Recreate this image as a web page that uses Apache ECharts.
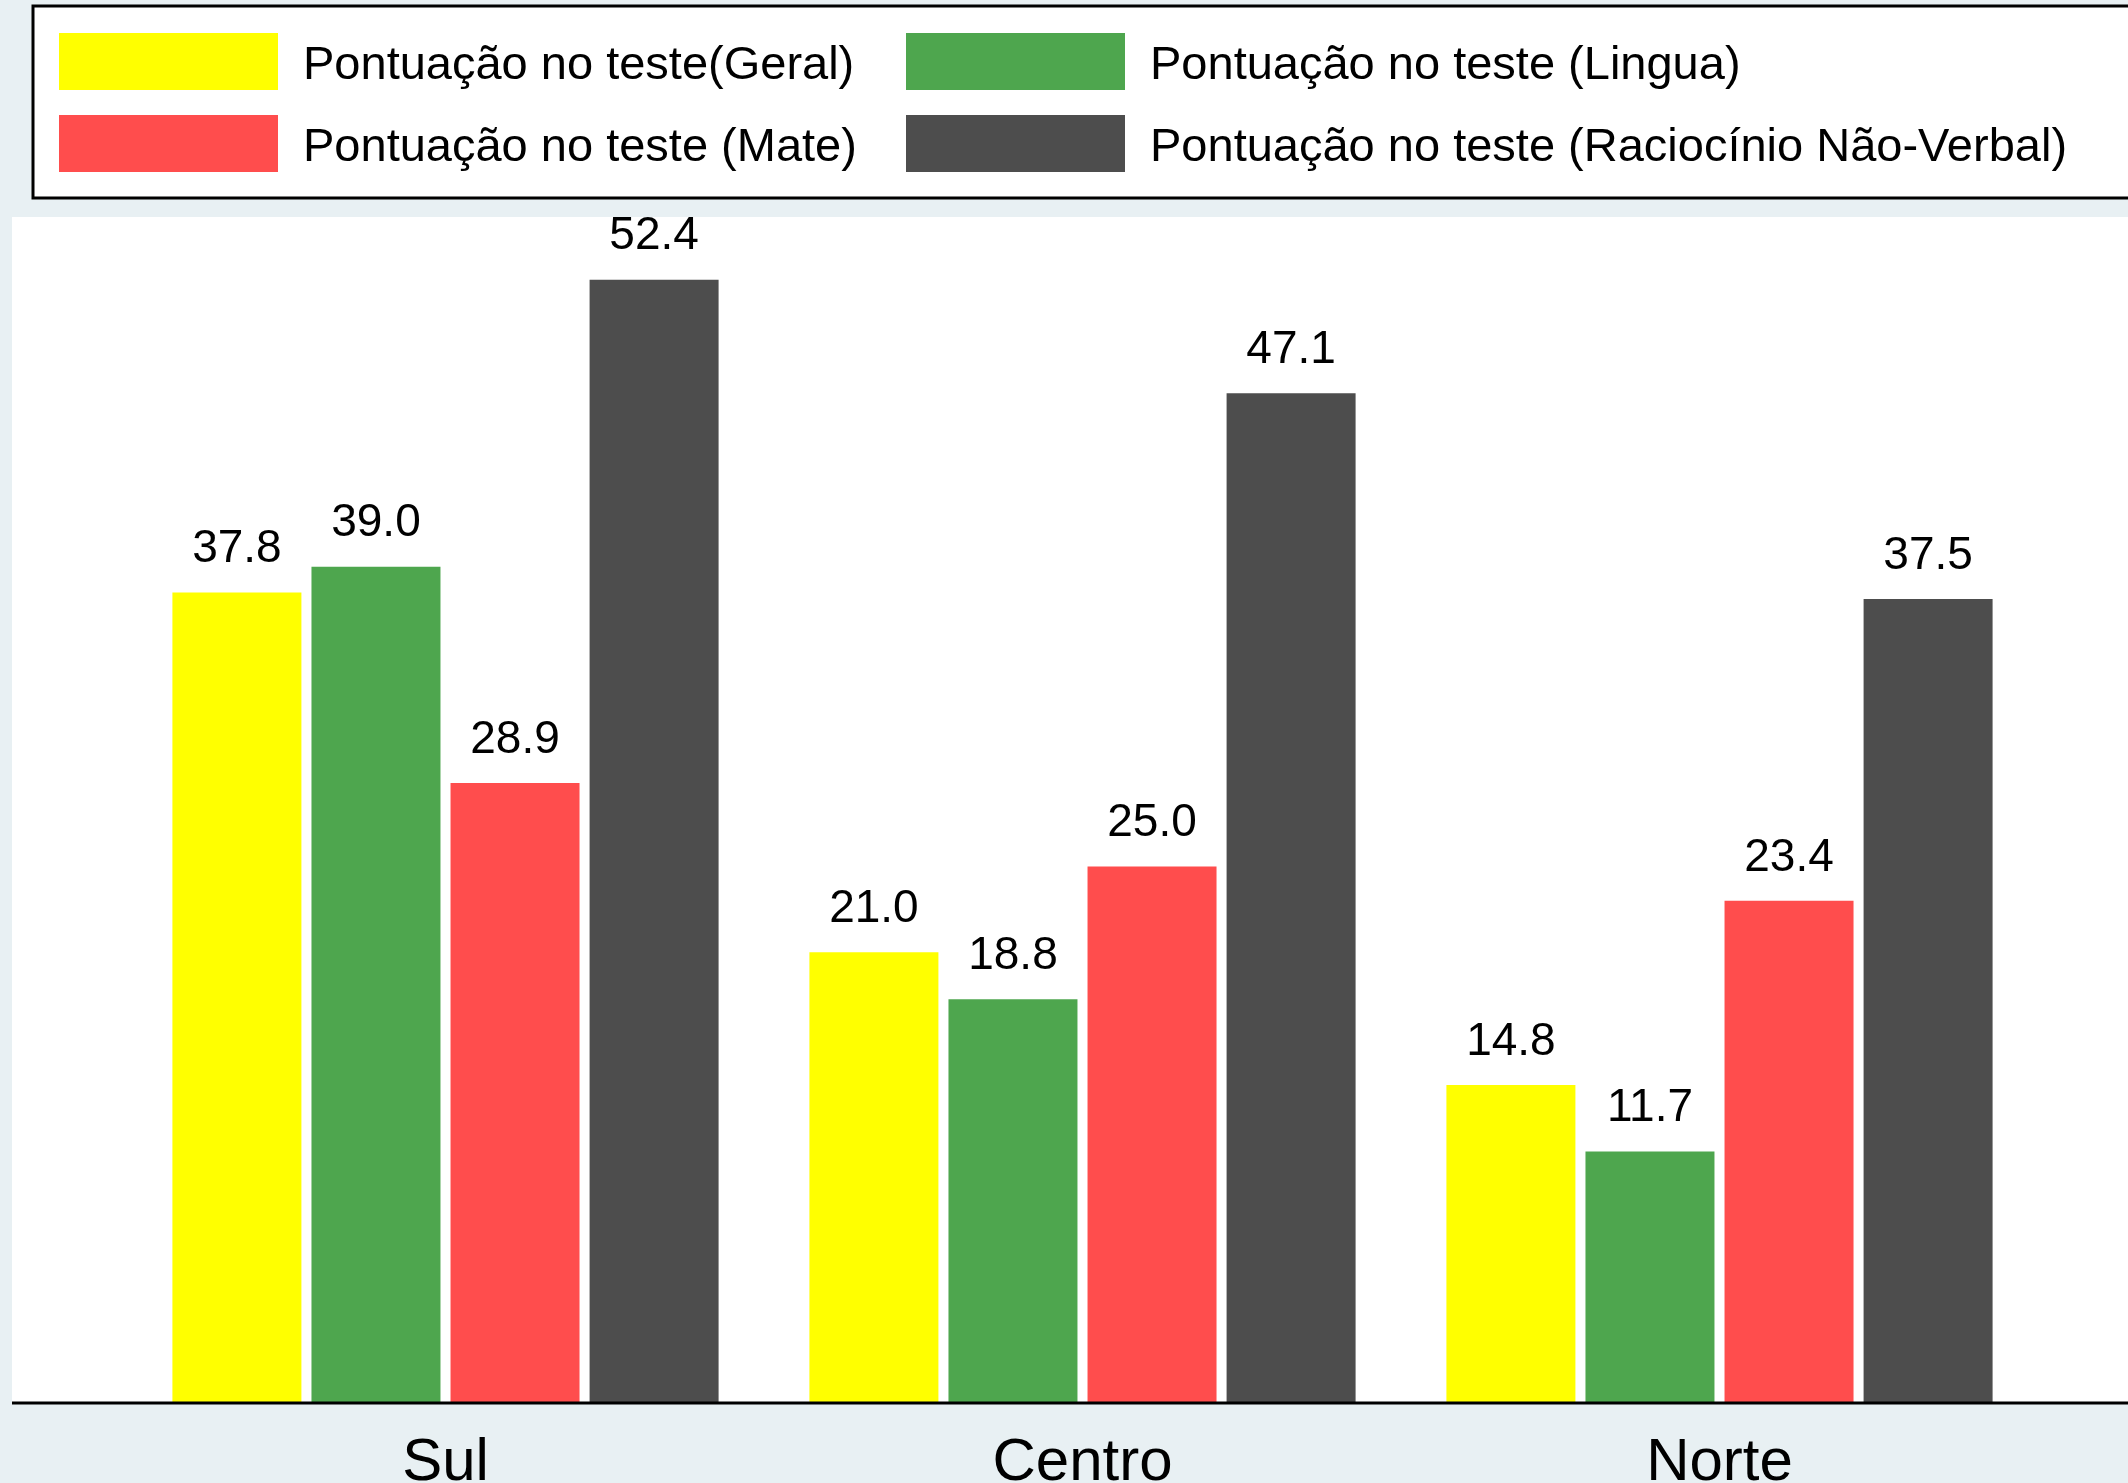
<!DOCTYPE html>
<html>
<head>
<meta charset="utf-8">
<script src="https://cdn.jsdelivr.net/npm/echarts@6/dist/echarts.min.js"></script>
<style>
  html, body { margin: 0; padding: 0; background: #e8f0f3; }
  #chart { width: 2128px; height: 1483px; }
</style>
</head>
<body>
<div id="chart"></div>
<script>
// regions
var categories = ['Sul', 'Centro', 'Norte']

// test scores per region
var seriesNames = [
  'Pontuação no teste(Geral)',
  'Pontuação no teste (Lingua)',
  'Pontuação no teste (Mate)',
  'Pontuação no teste (Raciocínio Não-Verbal)'
]
var geral = [37.8, 21.0, 14.8]
var lingua = [39.0, 18.8, 11.7]
var mate = [28.9, 25.0, 23.4]
var naoVerbal = [52.4, 47.1, 37.5]

var colors = ['#ffff00', '#4ea64e', '#ff4d4d', '#4d4d4d']
var font = 'Liberation Sans, Arial, sans-serif'

var chart = echarts.init(document.getElementById('chart'))

function barSeries(name, data, color) {
  return {
    name: name,
    type: 'bar',
    data: data,
    barWidth: 129,
    barGap: '7.8%',
    itemStyle: { color: color },
    label: {
      show: true,
      position: 'top',
      distance: 20,
      color: '#000',
      fontFamily: font,
      fontSize: 46,
      formatter: function(p) {
        return p.value.toFixed(1)
      }
    },
    animation: false
  }
}

var legendText = {
  color: '#000',
  fontFamily: font,
  fontSize: 47,
  rich: {
    t: {
      color: '#000',
      fontFamily: font,
      fontSize: 47,
      padding: [9, 0, 0, 20]
    }
  }
}

function legendFmt(name) {
  return '{t|' + name + '}'
}

chart.setOption({
  backgroundColor: '#e8f0f3',
  graphic: [
    {
      type: 'rect',
      z: -10,
      shape: { x: 12, y: 217, width: 2200, height: 1186 },
      style: { fill: '#ffffff' }
    },
    {
      type: 'rect',
      z: -10,
      shape: { x: 33, y: 6, width: 2200, height: 192 },
      style: { fill: '#ffffff', stroke: '#000', lineWidth: 3 }
    },
    {
      type: 'line',
      z: 10,
      shape: { x1: 12, y1: 1403, x2: 2128, y2: 1403 },
      style: { stroke: '#000', lineWidth: 3 }
    }
  ],
  legend: [
    {
      orient: 'vertical',
      left: 54,
      top: 28,
      itemWidth: 219,
      itemHeight: 57,
      itemGap: 25,
      icon: 'rect',
      data: [seriesNames[0], seriesNames[2]],
      formatter: legendFmt,
      textStyle: legendText
    },
    {
      orient: 'vertical',
      left: 901,
      top: 28,
      itemWidth: 219,
      itemHeight: 57,
      itemGap: 25,
      icon: 'rect',
      data: [seriesNames[1], seriesNames[3]],
      formatter: legendFmt,
      textStyle: legendText
    }
  ],
  grid: {
    left: 127,
    right: 90,
    top: 117,
    bottom: 81,
    outerBoundsMode: 'none'
  },
  xAxis: {
    type: 'category',
    data: categories,
    axisLine: { show: false },
    axisTick: { show: false },
    axisLabel: {
      color: '#000',
      fontFamily: font,
      fontSize: 60,
      margin: 31
    }
  },
  yAxis: {
    type: 'value',
    min: 0,
    max: 60,
    show: false,
    splitLine: { show: false }
  },
  series: [
    barSeries(seriesNames[0], geral, colors[0]),
    barSeries(seriesNames[1], lingua, colors[1]),
    barSeries(seriesNames[2], mate, colors[2]),
    barSeries(seriesNames[3], naoVerbal, colors[3])
  ]
})
</script>
</body>
</html>
